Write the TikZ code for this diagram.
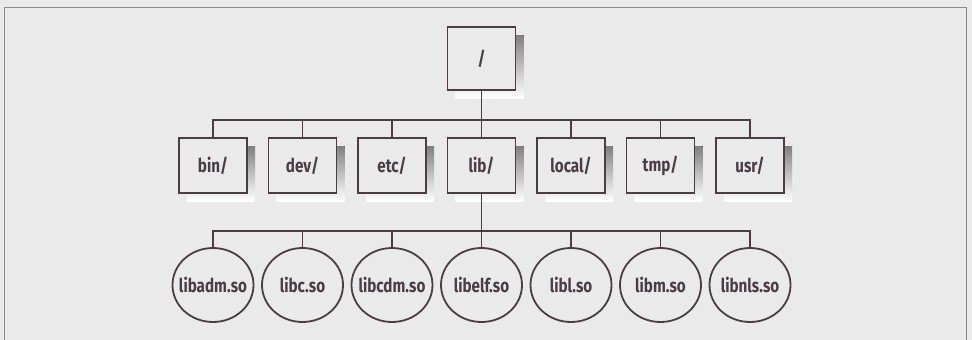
\documentclass[tikz,border=0pt]{standalone}
\usepackage{fontspec}
\setmainfont{Fira Sans}[FakeStretch=0.8]
\usetikzlibrary{shapes.geometric}
\definecolor{bg}{RGB}{234,234,234}
\definecolor{ink}{RGB}{74,62,68}
\definecolor{shade}{RGB}{160,160,160}
\definecolor{frame}{RGB}{140,140,140}
\tikzset{
  dirbox/.style={draw=ink, line width=1.8pt, fill=bg, minimum width=68pt, minimum height=55pt, inner sep=0pt, font=\fontsize{19}{19}\selectfont\bfseries, text=ink},
  rootbox/.style={dirbox, minimum height=63pt},
  libshape/.style={draw=ink, line width=1.8pt, fill=bg, ellipse, minimum width=81pt, minimum height=74pt, inner sep=0pt},
  libtext/.style={inner sep=0pt, font=\fontsize{19}{19}\selectfont\bfseries, text=ink},
  conn/.style={draw=ink, line width=1.8pt}
}
\begin{document}
\begin{tikzpicture}[x=1pt,y=-1pt]
\useasboundingbox (0,0) rectangle (972,340);
\fill[bg] (0,0) rectangle (972,340);
\draw[frame, line width=1pt] (4,340) -- (4,7) -- (966,7) -- (966,340);
% shadows
\foreach \x in {213,302.5,392,481.5,571,660.5,750} {
  \fill[shade] (\x-34+8,138+8) rectangle (\x+34+8,193+8);
}
\fill[shade] (481.5-34+8,27+8) rectangle (481.5+34+8,90+8);
% root
\node[rootbox] (root) at (481.5,58.5) {/};
% directories
\node[dirbox] (bin) at (213,165.5) {bin/};
\node[dirbox] (dev) at (302.5,165.5) {dev/};
\node[dirbox] (etc) at (392,165.5) {etc/};
\node[dirbox] (lib) at (481.5,165.5) {lib/};
\node[dirbox] (local) at (571,165.5) {local/};
\node[dirbox] (tmp) at (660.5,165.5) {tmp/};
\node[dirbox] (usr) at (750,165.5) {usr/};
% libraries
\node[libshape] (libadm) at (213,285) {};
\node[libshape] (libc) at (302.5,285) {};
\node[libshape] (libcdm) at (392,285) {};
\node[libshape] (libelf) at (481.5,285) {};
\node[libshape] (libl) at (571,285) {};
\node[libshape] (libm) at (660.5,285) {};
\node[libshape] (libnls) at (750,285) {};
\node[libtext] (tadm) at (libadm) {libadm.so};
\node[libtext] (tc) at (libc) {libc.so};
\node[libtext] (tcdm) at (libcdm) {libcdm.so};
\node[libtext] (telf) at (libelf) {libelf.so};
\node[libtext] (tl) at (libl) {libl.so};
\node[libtext] (tm) at (libm) {libm.so};
\node[libtext] (tnls) at (libnls) {libnls.so};
% connectors level 1
\coordinate (b1) at (481.5,120);
\draw[conn] (root.south) -- (b1);
\foreach \n in {bin,dev,etc,lib,local,tmp,usr} {
  \draw[conn] (\n.north) |- (b1);
}
% connectors level 2
\coordinate (b2) at (481.5,231);
\draw[conn] (lib.south) -- (b2);
\foreach \n in {libadm,libc,libcdm,libelf,libl,libm,libnls} {
  \draw[conn] (\n.north) |- (b2);
}
\end{tikzpicture}
\end{document}
